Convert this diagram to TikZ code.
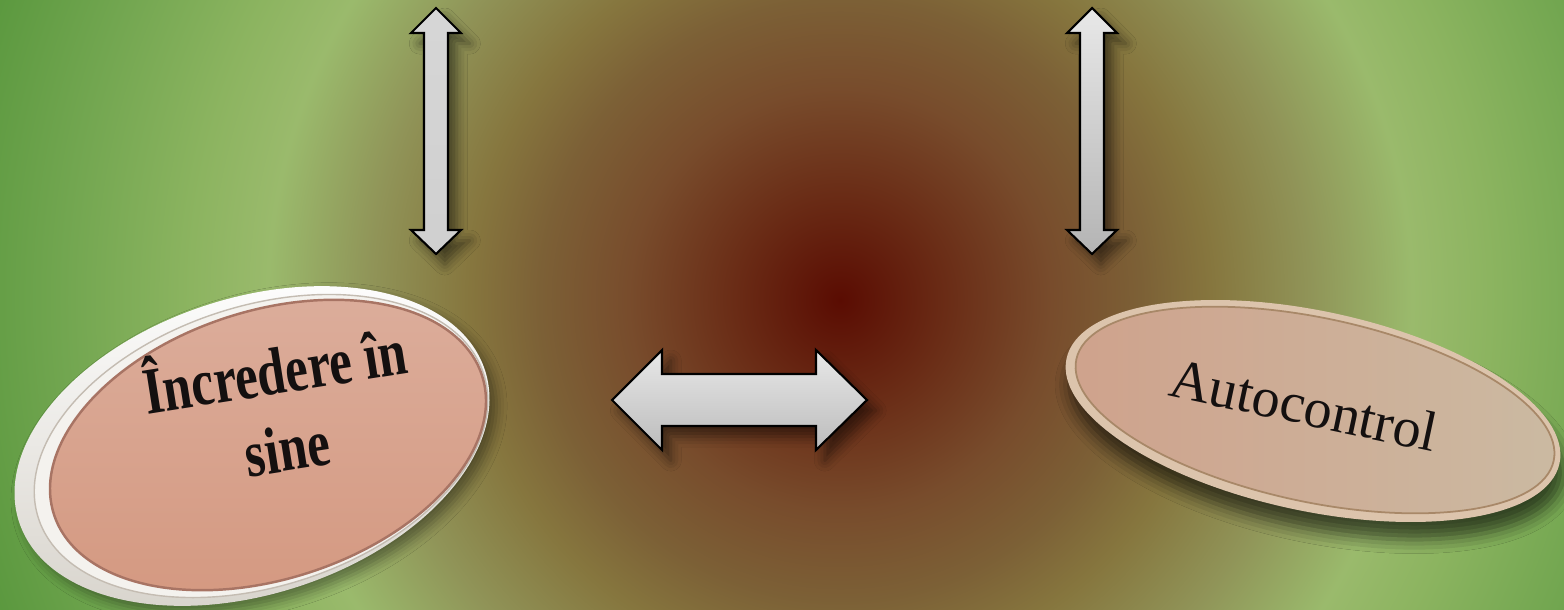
\documentclass[tikz,border=0pt]{standalone}
\usepackage{fontspec}
\setmainfont{Liberation Serif}
\usetikzlibrary{shadows.blur}
\definecolor{bg0}{HTML}{5A0C02}
\definecolor{bg1}{HTML}{6A2C16}
\definecolor{bg2}{HTML}{784C2C}
\definecolor{bg3}{HTML}{7C6036}
\definecolor{bg4}{HTML}{86763E}
\definecolor{bg5}{HTML}{909458}
\definecolor{bg6}{HTML}{9ABA6C}
\definecolor{bg7}{HTML}{8CB460}
\definecolor{bg8}{HTML}{72A650}
\definecolor{bg9}{HTML}{5A983E}
\definecolor{arrLight}{HTML}{E8E8E8}
\definecolor{arrDark}{HTML}{B4B4B4}
\definecolor{pinkTop}{HTML}{DCAE9C}
\definecolor{pinkBot}{HTML}{D49880}
\definecolor{pinkRim}{HTML}{A87464}
\definecolor{discGrey}{HTML}{D6D2CA}
\definecolor{midDisc}{HTML}{F4F2EE}
\definecolor{midLine}{HTML}{C4BCB2}
\definecolor{tanRim}{HTML}{DCC4AC}
\definecolor{tanLeft}{HTML}{CFA28C}
\definecolor{tanRight}{HTML}{CBBAA2}
\definecolor{tanLine}{HTML}{A88868}
\definecolor{txt}{HTML}{141010}
\pgfdeclareradialshading{bgshade}{\pgfpoint{0bp}{0bp}}{color(0bp)=(bg0); color(30bp)=(bg1); color(60bp)=(bg2); color(85bp)=(bg3); color(105bp)=(bg4); color(133bp)=(bg5); color(162bp)=(bg6); color(184bp)=(bg7); color(220bp)=(bg8); color(255bp)=(bg9)}
\tikzset{
  blockarrow/.style={draw=black, line width=0.6pt, line join=miter,
    blur shadow={shadow xshift=2.5pt, shadow yshift=-3pt, shadow blur radius=3pt, shadow opacity=50}},
  vshade/.style={top color=arrLight, bottom color=arrDark},
  hshade/.style={top color=arrLight, bottom color=arrDark!90!white},
}
\begin{document}
\begin{tikzpicture}[x=0.01cm, y=0.01cm]
\useasboundingbox (0,0) rectangle (1564,-609);
% background
\begin{scope}
  \clip (0,0) rectangle (1564,-609);
  \pgftext[at={\pgfpointxy{840}{-300}}]{\pgfuseshading{bgshade}}
\end{scope}
% block arrows
\path[blockarrow, vshade] (436,-8) -- (461,-33) -- (448,-33) -- (448,-230) -- (461,-230) -- (436,-254) -- (411,-230) -- (424,-230) -- (424,-33) -- (411,-33) -- cycle;
\path[blockarrow, vshade] (1092,-8) -- (1117,-33) -- (1104,-33) -- (1104,-230) -- (1117,-230) -- (1092,-254) -- (1067,-230) -- (1080,-230) -- (1080,-33) -- (1067,-33) -- cycle;
\path[blockarrow, hshade] (612,-400) -- (662,-350) -- (662,-374) -- (816,-374) -- (816,-350) -- (867,-400) -- (816,-450) -- (816,-426) -- (662,-426) -- (662,-450) -- cycle;
% left disc
\path[rotate around={18:(252,-446)}, top color=white, bottom color=discGrey,
  blur shadow={shadow xshift=2pt, shadow yshift=-2pt, shadow blur radius=3pt, shadow opacity=40}]
  (252,-446) ellipse [x radius=245, y radius=148];
\path[rotate around={18:(261,-446)}, fill=midDisc, draw=midLine, line width=0.4pt]
  (261,-446) ellipse [x radius=234, y radius=140];
\path[rotate around={18:(268,-445)}, top color=pinkTop, bottom color=pinkBot, draw=pinkRim, line width=0.7pt]
  (268,-445) ellipse [x radius=225, y radius=134];
\node[font=\fontsize{14.5}{17}\selectfont\bfseries, text=txt, align=center, rotate=9, yscale=1.3, inner sep=0pt] (t1) at (280,-404) {Încredere în\\sine};
% right disc
\path[rotate around={-12:(1313,-411)}, fill=tanRim,
  blur shadow={shadow xshift=1pt, shadow yshift=-5pt, shadow blur radius=4pt, shadow opacity=60}]
  (1313,-411) ellipse [x radius=252, y radius=100];
\path[rotate around={-12:(1315,-410)}, left color=tanLeft, right color=tanRight, draw=tanLine, line width=0.5pt]
  (1315,-410) ellipse [x radius=244, y radius=92];
\node[font=\fontsize{16}{19}\selectfont, text=txt, rotate=-12, inner sep=0pt] (t2) at (1304,-405) {Autocontrol};
\end{tikzpicture}
\end{document}
